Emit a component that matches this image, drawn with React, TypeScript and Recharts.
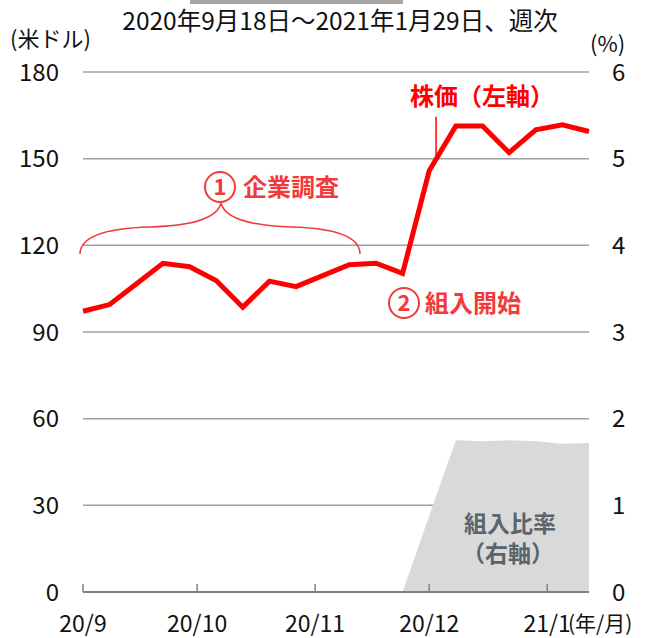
import React from "react";
import {
    ComposedChart,
    Line,
    Area,
    XAxis,
    YAxis,
    CartesianGrid,
    ReferenceLine,
} from "recharts";

// weekly closes, 2020/9/18 .. 2021/1/29
const weekDates = [
    "2020-09-18", "2020-09-25", "2020-10-02", "2020-10-09", "2020-10-16",
    "2020-10-23", "2020-10-30", "2020-11-06", "2020-11-13", "2020-11-20",
    "2020-11-27", "2020-12-04", "2020-12-11", "2020-12-18", "2020-12-25",
    "2021-01-01", "2021-01-08", "2021-01-15", "2021-01-22", "2021-01-29",
];
const price = [
    97.2, 99.5, 106.6, 113.8, 112.6, 107.8, 98.6, 107.6, 105.7, 109.5,
    113.3, 113.8, 110.3, 145.8, 161.3, 161.3, 152.1, 160.0, 161.7, 159.4,
];
const weight = [
    null, null, null, null, null, null, null, null, null, null,
    null, null, 0, 0.88, 1.75, 1.74, 1.75, 1.74, 1.71, 1.72,
];

const xTickDays = [0, 30, 61, 91, 122];
const xTickLabels = ["20/9", "20/10", "20/11", "20/12", "21/1"];
const leftTicks = [0, 30, 60, 90, 120, 150, 180];
const rightTicks = [0, 1, 2, 3, 4, 5, 6];

const FONT = "'Noto Sans CJK JP', 'Noto Sans', sans-serif";
const RED = "#ff0000";
const ANNO_RED = "#f23a3a";

const start = new Date(weekDates[0]).getTime();
const chartData = weekDates.map((d, i) => ({
    day: Math.round((new Date(d).getTime() - start) / 86400000),
    price: price[i],
    weight: weight[i],
}));

function XTick(props: any) {
    const { x, y, payload } = props;
    const idx = xTickDays.indexOf(payload.value);
    return (
        <g>
            <line x1={x} x2={x} y1={y - 8} y2={y} stroke="#808080" strokeWidth={1.5} />
            <text x={x} y={y + 40} textAnchor="middle" fontSize={23} fill="#111" fontFamily={FONT}>
                {xTickLabels[idx]}
            </text>
        </g>
    );
}

export default function App() {
    return (
        <div style={{ position: "relative", width: 651, height: 638, fontFamily: FONT }}>
            <style>{`body{margin:0}`}</style>
            <ComposedChart
                width={651}
                height={638}
                data={chartData}
                margin={{ top: 72, right: 0, bottom: 0, left: 0 }}
            >
                <CartesianGrid vertical={false} stroke="#a0a0a0" strokeWidth={1.5} yAxisId="left" />
                <XAxis
                    dataKey="day"
                    type="number"
                    domain={[0, 133]}
                    ticks={xTickDays}
                    tick={<XTick />}
                    tickLine={false}
                    tickSize={0}
                    tickMargin={0}
                    height={46}
                    axisLine={{ stroke: "#808080", strokeWidth: 2 }}
                    interval={0}
                />
                <YAxis
                    yAxisId="left"
                    domain={[0, 180]}
                    ticks={leftTicks}
                    width={83}
                    axisLine={false}
                    tickLine={false}
                    tickSize={0}
                    tickMargin={24}
                    tick={{ fontSize: 24, fill: "#111", fontFamily: FONT }}
                    interval={0}
                />
                <YAxis
                    yAxisId="right"
                    orientation="right"
                    domain={[0, 6]}
                    ticks={rightTicks}
                    width={62}
                    axisLine={false}
                    tickLine={false}
                    tickSize={0}
                    tickMargin={23}
                    tick={{ fontSize: 24, fill: "#111", fontFamily: FONT }}
                    interval={0}
                />
                <Area
                    yAxisId="right"
                    type="linear"
                    dataKey="weight"
                    fill="#d9d9d9"
                    fillOpacity={1}
                    stroke="none"
                    isAnimationActive={false}
                />
                <Line
                    yAxisId="left"
                    type="linear"
                    dataKey="price"
                    stroke={RED}
                    strokeWidth={5}
                    dot={false}
                    activeDot={false}
                    isAnimationActive={false}
                />
                <ReferenceLine
                    yAxisId="left"
                    segment={[{ x: 92.8, y: 151 }, { x: 92.8, y: 164.5 }]}
                    stroke={RED}
                    strokeWidth={1.5}
                />
            </ComposedChart>

            <svg width={651} height={638} style={{ position: "absolute", left: 0, top: 0, pointerEvents: "none" }}>
                <rect x={190} y={0} width={213} height={4} fill="#a6a6a6" />
                <text x={340} y={30} textAnchor="middle" fontSize={24.5} fill="#111" fontFamily={FONT}>
                    2020年9月18日～2021年1月29日、週次
                </text>
                <text x={10} y={47} fontSize={22} fill="#111" fontFamily={FONT}>(米ドル)</text>
                <text x={590} y={52} fontSize={22} fill="#111" fontFamily={FONT}>(%)</text>
                <text x={568} y={631} fontSize={21} fill="#111" fontFamily={FONT}>(年/月)</text>

                <text x={410} y={105} fontSize={24} fontWeight={700} fill={RED} fontFamily={FONT}>株価（左軸）</text>

                <circle cx={220} cy={187} r={15} fill="none" stroke={ANNO_RED} strokeWidth={2} />
                <text x={220} y={195} textAnchor="middle" fontSize={22} fontWeight={700} fill={ANNO_RED} fontFamily={FONT}>1</text>
                <text x={243} y={196} fontSize={24} fontWeight={700} fill={ANNO_RED} fontFamily={FONT}>企業調査</text>
                <path
                    d="M80,254 Q80,229 150,227 Q216,225 221,203 Q226,225 292,227 Q360,229 360,254"
                    fill="none"
                    stroke={ANNO_RED}
                    strokeWidth={1.5}
                />

                <circle cx={404} cy={303} r={15} fill="none" stroke={ANNO_RED} strokeWidth={2} />
                <text x={404} y={311} textAnchor="middle" fontSize={22} fontWeight={700} fill={ANNO_RED} fontFamily={FONT}>2</text>
                <text x={425} y={312} fontSize={24} fontWeight={700} fill={ANNO_RED} fontFamily={FONT}>組入開始</text>

                <text x={510} y={532} textAnchor="middle" fontSize={23} fontWeight={700} fill="#5a646c" fontFamily={FONT}>組入比率</text>
                <text x={508} y={562} textAnchor="middle" fontSize={23} fontWeight={700} fill="#5a646c" fontFamily={FONT}>（右軸）</text>
            </svg>
        </div>
    );
}
